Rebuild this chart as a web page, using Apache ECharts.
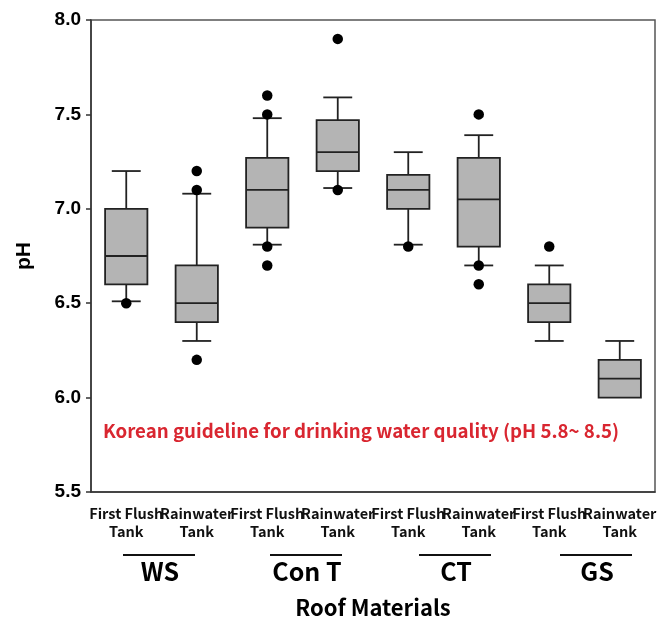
<!DOCTYPE html>
<html>
<head>
<meta charset="utf-8">
<script src="https://cdn.jsdelivr.net/npm/echarts@6/dist/echarts.min.js"></script>
<style>html,body{margin:0;padding:0;background:#fff}#c{width:670px;height:624px}</style>
</head>
<body>
<div id="c"></div>
<script>
const categories = ['First Flush\nTank','Rainwater\nTank','First Flush\nTank','Rainwater\nTank','First Flush\nTank','Rainwater\nTank','First Flush\nTank','Rainwater\nTank'];
const groups = ['WS','Con T','CT','GS'];
const lowWhisker  = [6.51, 6.30, 6.81, 7.11, 6.81, 6.70, 6.30, 6.00];
const q1          = [6.60, 6.40, 6.90, 7.20, 7.00, 6.80, 6.40, 6.00];
const median      = [6.75, 6.50, 7.10, 7.30, 7.10, 7.05, 6.50, 6.10];
const q3          = [7.00, 6.70, 7.27, 7.47, 7.18, 7.27, 6.60, 6.20];
const highWhisker = [7.20, 7.08, 7.48, 7.59, 7.30, 7.39, 6.70, 6.30];
const outliers = [[0,6.5],[1,7.2],[1,7.1],[1,6.2],[2,7.6],[2,7.5],[2,6.8],[2,6.7],[3,7.9],[3,7.1],[4,6.8],[5,7.5],[5,6.7],[5,6.6],[6,6.8]];
const yTicks = [5.5, 6.0, 6.5, 7.0, 7.5, 8.0];
const guideline = 'Korean guideline for drinking water quality (pH 5.8~ 8.5)';

const boxData = categories.map((c,i)=>[i, lowWhisker[i], q1[i], median[i], q3[i], highWhisker[i]]);

const kr = '"Noto Sans CJK KR", "Noto Sans", sans-serif';
const arial = '"Liberation Sans", Arial, sans-serif';
const chart = echarts.init(document.getElementById('c'), null, {renderer:'canvas'});

function renderBox(params, api){
  const x = api.value(0);
  const lo = api.coord([x, api.value(1)]);
  const b1 = api.coord([x, api.value(2)]);
  const md = api.coord([x, api.value(3)]);
  const b3 = api.coord([x, api.value(4)]);
  const hi = api.coord([x, api.value(5)]);
  const band = api.size([1,0])[0];
  const bw = band*0.6, cw = band*0.41;
  const cx = b1[0];
  const ls = {stroke:'#222', lineWidth:1.8};
  const ch = [];
  if (hi[1] < b3[1]) {
    ch.push({type:'line', shape:{x1:cx,y1:b3[1],x2:cx,y2:hi[1]}, style:ls});
    ch.push({type:'line', shape:{x1:cx-cw/2,y1:hi[1],x2:cx+cw/2,y2:hi[1]}, style:ls});
  }
  if (lo[1] > b1[1]) {
    ch.push({type:'line', shape:{x1:cx,y1:b1[1],x2:cx,y2:lo[1]}, style:ls});
    ch.push({type:'line', shape:{x1:cx-cw/2,y1:lo[1],x2:cx+cw/2,y2:lo[1]}, style:ls});
  }
  ch.push({type:'rect', shape:{x:cx-bw/2, y:b3[1], width:bw, height:b1[1]-b3[1]}, style:{fill:'#b4b4b4', stroke:'#222', lineWidth:1.8}});
  ch.push({type:'line', shape:{x1:cx-bw/2,y1:md[1],x2:cx+bw/2,y2:md[1]}, style:ls});
  return {type:'group', children:ch};
}

const groupX = [159, 306, 455, 596];
const graphics = [];
groups.forEach((g,i)=>{
  graphics.push({type:'line', shape:{x1:groupX[i]-36,y1:555,x2:groupX[i]+36,y2:555}, style:{stroke:'#111', lineWidth:1.8}});
  graphics.push({type:'text', x:groupX[i]+1, y:571, style:{text:g, font:'bold 25px '+kr, fill:'#000', align:'center', verticalAlign:'middle'}});
});
graphics.push({type:'text', x:361, y:431, style:{text:guideline, font:'bold 18.7px '+kr, fill:'#d92630', align:'center', verticalAlign:'middle'}});

chart.setOption({
  animation:false,
  backgroundColor:'#fff',
  grid:{left:91, right:15, top:20, bottom:131, show:true, borderColor:'#555', borderWidth:1.5, backgroundColor:'transparent'},
  xAxis:{
    type:'category', data:categories, boundaryGap:true,
    name:'Roof Materials', nameLocation:'middle', nameGap:105,
    nameTextStyle:{fontFamily:kr, fontWeight:'bold', fontSize:22, color:'#000'},
    axisLine:{lineStyle:{color:'#333', width:1.5}},
    axisTick:{alignWithLabel:true, length:13, lineStyle:{color:'#333', width:1.5}},
    axisLabel:{interval:0, margin:12, fontFamily:kr, fontWeight:'bold', fontSize:14.5, lineHeight:18, color:'#111'},
    splitLine:{show:false}
  },
  yAxis:{
    type:'value', min:5.5, max:8.0, interval:0.5,
    name:'pH', nameLocation:'middle', nameGap:56,
    nameTextStyle:{fontFamily:arial, fontWeight:'bold', fontSize:21, color:'#000'},
    axisLine:{show:true, lineStyle:{color:'#333', width:1.5}},
    axisTick:{show:true, length:5, lineStyle:{color:'#333', width:1.5}},
    axisLabel:{margin:10, fontFamily:arial, fontWeight:'bold', fontSize:19, color:'#000',
      formatter:v=>yTicks.includes(+v.toFixed(1)) ? v.toFixed(1) : ''},
    splitLine:{show:false}
  },
  series:[
    {type:'custom', renderItem:renderBox, data:boxData, encode:{x:0, y:[1,2,3,4,5]}, z:2},
    {type:'scatter', data:outliers, symbol:'circle', symbolSize:10.5, itemStyle:{color:'#000', opacity:1}, z:3}
  ],
  graphic:graphics
});
</script>
</body>
</html>
